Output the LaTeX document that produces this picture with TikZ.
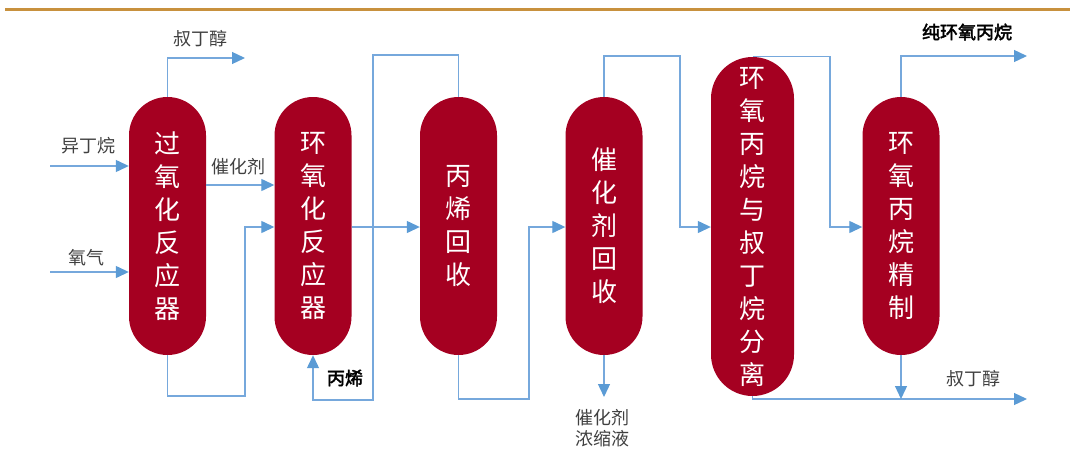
\documentclass[tikz,border=0pt]{standalone}
\usepackage{fontspec}
\setmainfont{Noto Sans CJK SC}
\newfontfamily\cjkb[AutoFakeBold=2.5]{Noto Sans CJK SC}
\usetikzlibrary{arrows.meta}
\definecolor{vred}{HTML}{A50021}
\definecolor{flowblue}{RGB}{118,168,220}
\definecolor{tipblue}{HTML}{5B9BD5}
\definecolor{gold}{HTML}{C8913E}
\definecolor{labgray}{HTML}{404040}
\begin{document}
\begin{tikzpicture}[x=1pt,y=-1pt,
  vessel/.style={fill=vred, draw=none, minimum width=77pt, minimum height=258pt,
    rounded corners=38.5pt, inner sep=0pt, align=center, text=white,
    font=\fontsize{26}{33}\selectfont},
  lab/.style={text=labgray, inner sep=0pt, font=\fontsize{18}{21}\selectfont},
  labb/.style={text=black, inner sep=0pt, font=\cjkb\bfseries\fontsize{18}{21}\selectfont},
  flow/.style={draw=flowblue, line width=1.3pt,
    -{Triangle[length=13pt,width=12pt,color=tipblue]}},
  pipe/.style={draw=flowblue, line width=1.3pt}
]
\useasboundingbox (0,0) rectangle (1070,458);
\draw[gold, line width=3pt] (5,9.5) -- (1070,9.5);

% vessels
\node[vessel] (v1) at (167.5,226) {过\\氧\\化\\反\\应\\器};
\node[vessel] (v2) at (313,226) {环\\氧\\化\\反\\应\\器};
\node[vessel] (v3) at (458.5,226) {丙\\烯\\回\\收};
\node[vessel] (v4) at (604,226) {催\\化\\剂\\回\\收};
\node[vessel, minimum width=83pt, minimum height=339pt, rounded corners=41.5pt] (v5) at (752.5,226.5) {环\\氧\\丙\\烷\\与\\叔\\丁\\烷\\分\\离};
\node[vessel] (v6) at (901,226) {环\\氧\\丙\\烷\\精\\制};

% labels
\node[lab] (l1) at (200,39) {叔丁醇};
\node[lab] (l2) at (88,146) {异丁烷};
\node[lab] (l3) at (86,258) {氧气};
\node[lab] (l4) at (238,167) {催化剂};
\node[labb] (l5) at (345,378) {丙烯};
\node[lab, align=center] (l6) at (602,428) {催化剂\\浓缩液};
\node[labb] (l7) at (967,32) {纯环氧丙烷};
\node[lab] (l8) at (973,379) {叔丁醇};

% coordinates
\coordinate (tba1) at (245,58);
\coordinate (iso) at (50,166);
\coordinate (oxy) at (50,272);
\coordinate (cat) at (0,185);
\coordinate (j2) at (0,227);
\coordinate (r1) at (245,396);
\coordinate (pa) at (373,55);
\coordinate (pb) at (373,400);
\coordinate (r3) at (529,399);
\coordinate (r4) at (680,56);
\coordinate (r5) at (830,227);
\coordinate (conc) at (604,397);
\coordinate (tba2) at (1027,399);
\coordinate (pe) at (1027,56);

% connectors
\draw[flow] (v1.north) |- (tba1);
\draw[flow] (iso) -- (iso -| v1.west);
\draw[flow] (oxy) -- (oxy -| v1.west);
\draw[flow] (cat -| v1.east) -- (cat -| v2.west);
\draw[flow] (v1.south) |- (r1) |- (j2 -| v2.west);
\draw[flow] (v3.north) |- (pa) -- (pb) -| (v2.south);
\draw[flow] (j2 -| v2.east) -- (j2 -| v3.west);
\draw[flow] (v3.south) |- (r3) |- (j2 -| v4.west);
\draw[flow] (v4.north) |- (r4) |- (j2 -| v5.west);
\draw[flow] (v4.south) -- (conc);
\draw[flow] (v5.north) -| (r5) -- (r5 -| v6.west);
\draw[flow] (v6.north) |- (pe);
\draw[flow] (v5.south) |- (tba2);
\draw[flow] (v6.south) -- (v6.south |- tba2);
\end{tikzpicture}
\end{document}
